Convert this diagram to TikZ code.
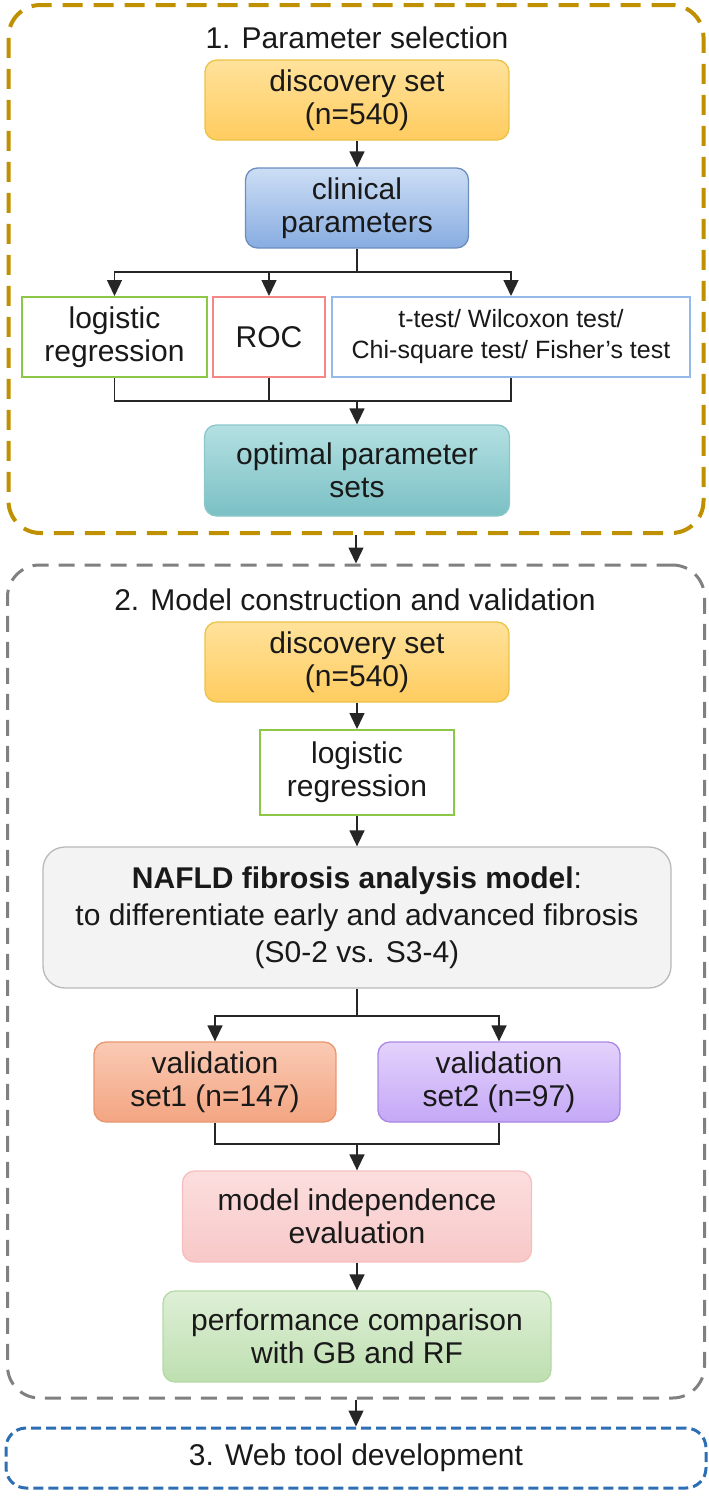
\documentclass[tikz,border=0pt]{standalone}
\usepackage{fontspec}
\setmainfont{Liberation Sans}
\usepackage{xcolor}
\usepackage{tikz}
\usetikzlibrary{arrows.meta,positioning,calc}
\definecolor{stagegold}{RGB}{191,144,0}
\definecolor{stagegray}{RGB}{128,128,128}
\definecolor{stageblue}{RGB}{45,110,180}
\definecolor{boxgreen}{RGB}{140,200,70}
\definecolor{boxpink}{RGB}{245,135,135}
\definecolor{boxblue}{RGB}{150,185,235}

\begin{document}
\begin{tikzpicture}[
x=1pt,y=-1pt,
every node/.style={font=\fontsize{30}{33}\selectfont,text=black!90,align=center,inner sep=0pt},
RoundBox/.style={draw,rounded corners=12pt,line width=1.3pt},
PlainBox/.style={draw,line width=2pt,fill=white},
Stage/.style={draw,rounded corners=32pt},
Disc/.style={RoundBox,draw={rgb,255:red,235;green,195;blue,70},top color={rgb,255:red,255;green,226;blue,155},bottom color={rgb,255:red,255;green,204;blue,95}},
Clin/.style={RoundBox,draw={rgb,255:red,108;green,142;blue,191},top color={rgb,255:red,205;green,222;blue,245},bottom color={rgb,255:red,135;green,172;blue,225}},
Opt/.style={RoundBox,draw={rgb,255:red,140;green,200;blue,202},top color={rgb,255:red,180;green,224;blue,226},bottom color={rgb,255:red,122;green,192;blue,196}},
Lines/.style={line width=1.4pt,draw=black!85},
Arrow/.style={Lines,-{Triangle[length=16pt,width=15pt]}}
]
\useasboundingbox (0,0) rectangle (709,1500);

% the three stages
\node[Stage,draw=stagegold,line width=4pt,dash pattern=on 20pt off 11pt,minimum width=695pt,minimum height=528pt] (stage1) at (356,269) {};
\node[Stage,draw=stagegray,line width=3pt,dash pattern=on 16pt off 10pt,minimum width=697pt,minimum height=833pt] (stage2) at (356,981.5) {};
\node[Stage,rounded corners=20pt,draw=stageblue,line width=3pt,dash pattern=on 10pt off 5pt,minimum width=700pt,minimum height=60pt] (stage3) at (356,1458) {3. Web tool development};

% 1. Parameter selection
\node (title1) at (357,38) {1. Parameter selection};
\node[Disc,minimum width=304pt,minimum height=80pt] (disc1) at (357,100) {discovery set\\(n=540)};
\node[Clin,minimum width=223pt,minimum height=80pt] (clin1) at (357,208) {clinical\\parameters};
\node[PlainBox,draw=boxgreen,minimum width=185pt,minimum height=80pt] (logi1) at (114.5,337) {logistic\\regression};
\node[PlainBox,draw=boxpink,minimum width=112pt,minimum height=80pt] (roc1) at (269,337) {ROC};
\node[PlainBox,draw=boxblue,minimum width=358pt,minimum height=80pt,font=\fontsize{25}{31}\selectfont] (test1) at (511,337) {t-test/ Wilcoxon test/\\Chi-square test/ Fisher’s test};
\node[Opt,minimum width=305pt,minimum height=91pt] (opt1) at (357,470.5) {optimal parameter\\sets};

\coordinate (split1) at (357,272);
\coordinate (join1) at (357,401);
\draw[Arrow] (disc1) -- (clin1);
\draw[Lines] (clin1) -- (split1);
\draw[Arrow] (split1) -| (logi1);
\draw[Arrow] (split1) -| (roc1);
\draw[Arrow] (split1) -| (test1);
\draw[Lines] (logi1) |- (join1);
\draw[Lines] (roc1) |- (join1);
\draw[Lines] (test1) |- (join1);
\draw[Arrow] (join1) -- (opt1);

\draw[Arrow] (stage1.south) -- (stage2.north);

% 2. Model construction and validation
\node (title2) at (355,600) {2. Model construction and validation};
\node[Disc,minimum width=304pt,minimum height=80pt] (disc2) at (357,662) {discovery set\\(n=540)};
\node[PlainBox,draw=boxgreen,minimum width=194pt,minimum height=85pt] (logi2) at (357,772.5) {logistic\\regression};
\node[RoundBox,rounded corners=22pt,draw={rgb,255:red,185;green,185;blue,185},fill={rgb,255:red,243;green,243;blue,243},minimum width=628pt,minimum height=141pt,font=\fontsize{30}{37}\selectfont] (nafld) at (357,917.5)
  {\textbf{NAFLD fibrosis analysis model}:\\to differentiate early and advanced fibrosis\\(S0-2 vs. S3-4)};
\node[RoundBox,draw={rgb,255:red,232;green,150;blue,110},top color={rgb,255:red,250;green,202;blue,180},bottom color={rgb,255:red,243;green,165;blue,130},minimum width=242pt,minimum height=80pt] (val1) at (215,1082) {validation\\set1 (n=147)};
\node[RoundBox,draw={rgb,255:red,170;green,135;blue,228},top color={rgb,255:red,228;green,210;blue,252},bottom color={rgb,255:red,196;green,168;blue,246},minimum width=242pt,minimum height=80pt] (val2) at (499,1082) {validation\\set2 (n=97)};
\node[RoundBox,draw={rgb,255:red,246;green,190;blue,190},top color={rgb,255:red,252;green,222;blue,222},bottom color={rgb,255:red,248;green,200;blue,200},minimum width=349pt,minimum height=91pt] (indep) at (357,1216.5) {model independence\\evaluation};
\node[RoundBox,draw={rgb,255:red,180;green,218;blue,165},top color={rgb,255:red,222;green,239;blue,214},bottom color={rgb,255:red,190;green,223;blue,176},minimum width=388pt,minimum height=91pt] (perf) at (357,1336.5) {performance comparison\\with GB and RF};

\coordinate (split2) at (357,1016);
\coordinate (join2) at (357,1144);
\draw[Arrow] (disc2) -- (logi2);
\draw[Arrow] (logi2) -- (nafld);
\draw[Lines] (nafld) -- (split2);
\draw[Arrow] (split2) -| (val1);
\draw[Arrow] (split2) -| (val2);
\draw[Lines] (val1) |- (join2);
\draw[Lines] (val2) |- (join2);
\draw[Arrow] (join2) -- (indep);
\draw[Arrow] (indep) -- (perf);

\draw[Arrow] (stage2.south) -- (stage3.north);

\end{tikzpicture}
\end{document}
